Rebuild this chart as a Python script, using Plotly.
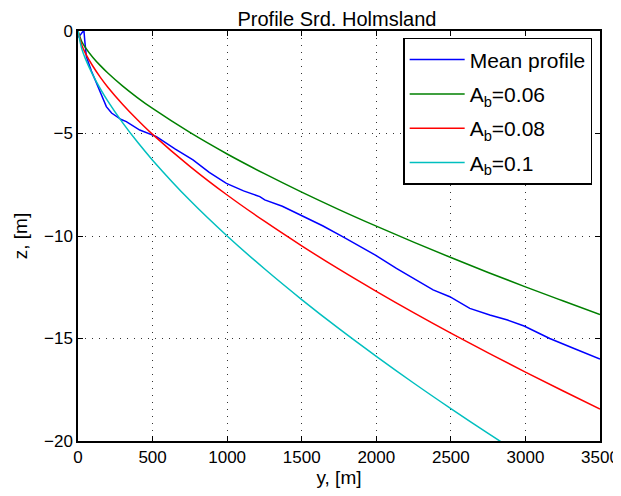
import plotly.graph_objects as go

# Messprofil (gelesen aus der Abbildung)
y_mean = [0, 15, 30, 40, 45, 56, 90, 123, 160, 190, 225, 257, 290, 324, 414, 526, 650,
          771, 880, 995, 1110, 1219, 1252, 1370, 1494, 1640, 1777, 1994, 2135, 2260,
          2381, 2493, 2627, 2761, 2880, 2991, 3080, 3163, 3330, 3500]
z_mean = [-0.3, -0.2, -0.05, 0.0, -0.44, -1.25, -1.95, -2.55, -3.15, -3.69, -4.0, -4.18,
          -4.32, -4.42, -4.83, -5.15, -5.75, -6.29, -6.9, -7.43, -7.8, -8.08, -8.24,
          -8.55, -8.98, -9.5, -10.04, -10.93, -11.58, -12.1, -12.63, -12.96, -13.53,
          -13.85, -14.1, -14.39, -14.7, -15.0, -15.5, -16.0]

# Gleichgewichtsprofile
y_eq = [0, 25, 50, 100, 150, 200, 300, 400, 500, 750, 1000, 1250, 1500, 1750, 2000,
        2250, 2500, 2750, 3000, 3250, 3500]
z_006 = [0, -0.51, -0.81, -1.29, -1.69, -2.05, -2.69, -3.26, -3.78, -4.95, -6.0, -6.96,
         -7.86, -8.71, -9.52, -10.30, -11.05, -11.78, -12.48, -13.16, -13.83]
z_008 = [0, -0.68, -1.09, -1.72, -2.26, -2.74, -3.58, -4.34, -5.04, -6.60, -8.0, -9.28,
         -10.48, -11.62, -12.70, -13.74, -14.74, -15.70, -16.64, -17.55, -18.44]
z_010 = [0, -0.86, -1.36, -2.15, -2.82, -3.42, -4.48, -5.43, -6.30, -8.26, -10.0, -11.60,
         -13.10, -14.52, -15.87, -17.17, -18.42, -19.63, -20.80]

fig = go.Figure()
fig.add_trace(go.Scatter(x=y_mean, y=z_mean, mode='lines', name='Mean profile',
                         line=dict(color='#0000ff', width=1.5), legendgroup='a'))
fig.add_trace(go.Scatter(x=y_eq, y=z_006, mode='lines', name='A<sub>b</sub>=0.06',
                         line=dict(color='#008000', width=1.5, shape='spline'), legendgroup='b'))
fig.add_trace(go.Scatter(x=y_eq, y=z_008, mode='lines', name='A<sub>b</sub>=0.08',
                         line=dict(color='#ff0000', width=1.5, shape='spline'), legendgroup='c'))
fig.add_trace(go.Scatter(x=y_eq[:len(z_010)], y=z_010, mode='lines', name='A<sub>b</sub>=0.1',
                         line=dict(color='#00bfbf', width=1.5, shape='spline'), legendgroup='d'))

ax = dict(showline=True, linecolor='black', linewidth=1.5, mirror='allticks',
          ticks='inside', ticklen=5, tickcolor='black', automargin=False,
          showgrid=True, gridcolor='#333333', griddash='1px,6px', gridwidth=1,
          zeroline=False, tickfont=dict(size=17, color='black'))

# Seite hat 8px Rand -> Figur entsprechend kleiner
fig.update_layout(
    width=613, height=488,
    margin=dict(l=70, r=21, t=23, b=55),
    paper_bgcolor='white', plot_bgcolor='white',
    font=dict(family='Liberation Sans, Arial, sans-serif', color='black'),
    title=dict(text='Profile Srd. Holmsland', x=0.5367, xanchor='center', y=0.977,
               yanchor='middle', font=dict(size=20)),
    xaxis=dict(ax, range=[0, 3500], tickvals=[0, 500, 1000, 1500, 2000, 2500, 3000, 3500],
               title=dict(text='y, [m]', font=dict(size=19), standoff=4)),
    yaxis=dict(ax, range=[-20, 0], tickvals=[-20, -15, -10, -5, 0],
               title=dict(text='z, [m]', font=dict(size=19), standoff=11)),
    legend=dict(x=0.985, y=0.983, xanchor='right', yanchor='top',
                bgcolor='white', bordercolor='black', borderwidth=1.5,
                font=dict(size=21), tracegroupgap=4, itemwidth=55),
    showlegend=True,
)

fig.write_html("out.html")
